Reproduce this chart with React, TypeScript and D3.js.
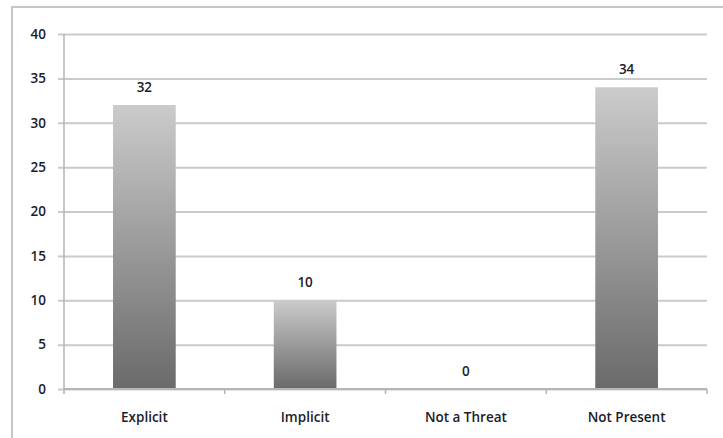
import React, { useEffect, useRef } from 'react';
import * as d3 from 'd3';

const width = 723;
const height = 438;
const margin = { top: 34, right: 16, bottom: 49, left: 64 };

const categories = ['Explicit', 'Implicit', 'Not a Threat', 'Not Present'];
const counts = [32, 10, 0, 34];
const yTicks = [0, 5, 10, 15, 20, 25, 30, 35, 40];

const font = "'Open Sans', 'Noto Sans', sans-serif";
const textColor = '#1c1c2a';

const App = () => {
  const ref = useRef<SVGSVGElement>(null);

  useEffect(() => {
    if (!ref.current) return;
    const root = d3.select(ref.current);
    root.selectAll('*').remove();

    const graphWidth = width - margin.left - margin.right;
    const graphHeight = height - margin.top - margin.bottom;

    const defs = root.append('defs');
    const grad = defs
      .append('linearGradient')
      .attr('id', 'barGrad')
      .attr('x1', 0)
      .attr('y1', 0)
      .attr('x2', 0)
      .attr('y2', 1);
    grad.append('stop').attr('offset', '0%').attr('stop-color', '#cbcbcb');
    grad.append('stop').attr('offset', '100%').attr('stop-color', '#6a6a6a');

    // outer chart frame
    root
      .append('rect')
      .attr('x', 12)
      .attr('y', 7)
      .attr('width', width + 20)
      .attr('height', height + 20)
      .attr('fill', 'white')
      .attr('stroke', '#c6c6c6')
      .attr('stroke-width', 2);

    const svg = root
      .append('g')
      .attr('transform', `translate(${margin.left}, ${margin.top})`);

    const x = d3
      .scaleBand<string>()
      .domain(categories)
      .range([0, graphWidth])
      .paddingInner(0.61)
      .paddingOuter(0.305);

    const y = d3.scaleLinear().domain([0, 40]).range([graphHeight, 0]);

    // gridlines + y axis
    const yAxis = svg
      .append('g')
      .call(
        d3
          .axisLeft(y)
          .tickValues(yTicks)
          .tickSizeInner(-graphWidth)
          .tickSizeOuter(0)
          .tickPadding(18)
      );
    yAxis.select('.domain').remove();
    yAxis
      .selectAll('.tick line')
      .attr('x1', -6)
      .attr('stroke', '#cacaca')
      .attr('stroke-width', 2);
    yAxis
      .selectAll('.tick text')
      .attr('fill', textColor)
      .style('font-family', font)
      .style('font-size', '13.5px')
      .style('font-weight', 600);

    // y axis line
    svg
      .append('line')
      .attr('x1', 0)
      .attr('x2', 0)
      .attr('y1', 0)
      .attr('y2', graphHeight)
      .attr('stroke', '#b5b5b5')
      .attr('stroke-width', 1.5);

    // bars
    svg
      .selectAll('rect.bar')
      .data(counts)
      .enter()
      .append('rect')
      .attr('class', 'bar')
      .attr('x', (_, i) => x(categories[i]) ?? 0)
      .attr('width', x.bandwidth())
      .attr('y', (d) => y(d))
      .attr('height', (d) => graphHeight - y(d))
      .attr('fill', 'url(#barGrad)');

    // x axis line and ticks
    svg
      .append('line')
      .attr('x1', 0)
      .attr('x2', graphWidth)
      .attr('y1', graphHeight)
      .attr('y2', graphHeight)
      .attr('stroke', '#b5b5b5')
      .attr('stroke-width', 2);

    const step = x.step();
    svg
      .selectAll('line.xtick')
      .data(d3.range(categories.length + 1))
      .enter()
      .append('line')
      .attr('class', 'xtick')
      .attr('x1', (i) => i * step)
      .attr('x2', (i) => i * step)
      .attr('y1', graphHeight)
      .attr('y2', graphHeight + 5)
      .attr('stroke', '#b5b5b5')
      .attr('stroke-width', 1.5);

    // category labels
    svg
      .selectAll('text.cat')
      .data(categories)
      .enter()
      .append('text')
      .attr('class', 'cat')
      .attr('x', (d) => (x(d) ?? 0) + x.bandwidth() / 2)
      .attr('y', graphHeight + 33)
      .attr('text-anchor', 'middle')
      .attr('fill', textColor)
      .style('font-family', font)
      .style('font-size', '13.5px')
      .style('font-weight', 600)
      .text((d) => d);

    // value labels
    svg
      .selectAll('text.val')
      .data(counts)
      .enter()
      .append('text')
      .attr('class', 'val')
      .attr('x', (_, i) => (x(categories[i]) ?? 0) + x.bandwidth() / 2)
      .attr('y', (d) => y(d) - 13)
      .attr('text-anchor', 'middle')
      .attr('fill', textColor)
      .style('font-family', font)
      .style('font-size', '13.5px')
      .style('font-weight', 600)
      .text((d) => d);
  }, []);

  return (
    <svg
      ref={ref}
      width={width}
      height={height}
      style={{ position: 'absolute', left: 0, top: 0 }}
    />
  );
};

export default App;
